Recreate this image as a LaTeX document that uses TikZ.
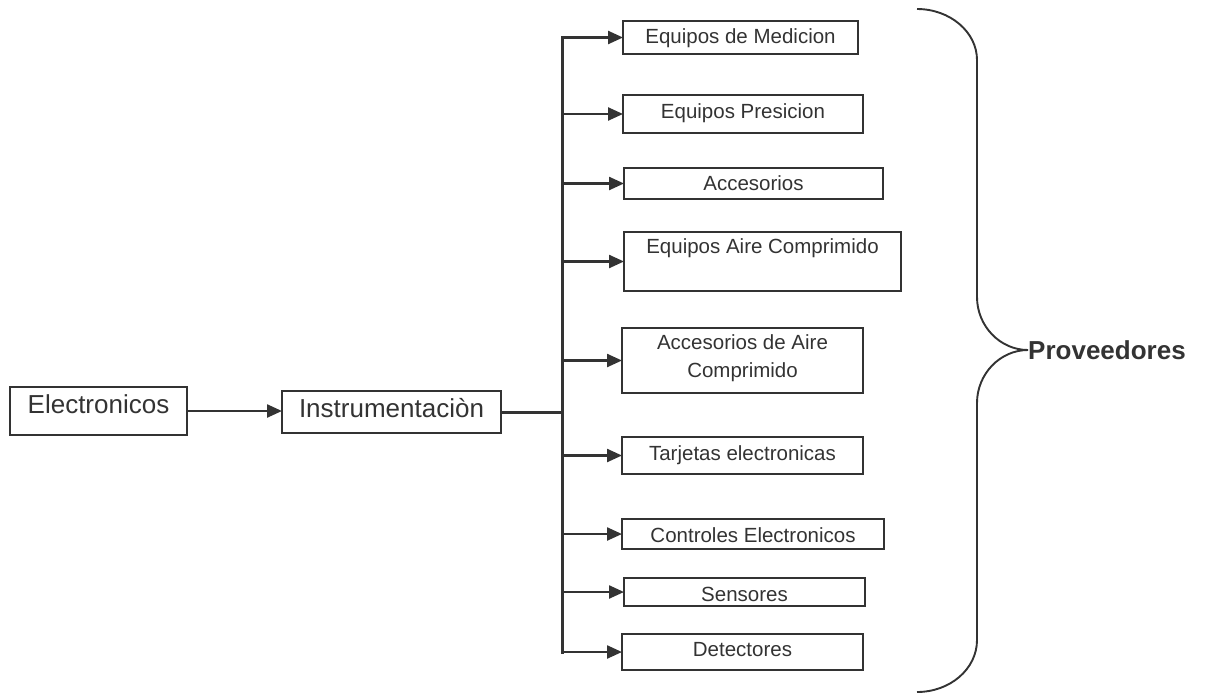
\documentclass[tikz,border=0pt]{standalone}
\usepackage{fontspec}
\setmainfont{Liberation Sans}
\usetikzlibrary{arrows.meta}
\definecolor{ink}{HTML}{333333}
\begin{document}
\begin{tikzpicture}[x=1pt,y=-1pt,
  box/.style={draw=ink, line width=1.8pt, inner sep=0pt, outer sep=0pt},
  lbl/.style={text=ink, inner sep=0pt, anchor=base, font=\fontsize{20.5}{28}\selectfont},
  biglbl/.style={lbl, font=\fontsize{26}{30}\selectfont},
  conn/.style={draw=ink, line width=2.4pt},
  arr/.style={conn, -{Triangle[length=15pt,width=13pt]}},
  busline/.style={draw=ink, line width=3pt},
  brace/.style={draw=ink, line width=1.9pt}]
\useasboundingbox (0,0) rectangle (1212,694);

% left chain
\node[box, minimum width=177pt, minimum height=48pt] (elec) at (98.5,411) {};
\node[biglbl] (elecT) at (98.5,413) {Electronicos};
\node[box, minimum width=219pt, minimum height=42pt] (instr) at (391.5,412) {};
\node[biglbl] (instrT) at (391.5,417) {Instrumentaciòn};

% item boxes
\node[box, minimum width=235pt, minimum height=33pt] (m1) at (740.5,37.5) {};
\node[lbl] (m1T) at (740.5,43) {Equipos de Medicion};
\node[box, minimum width=240pt, minimum height=38pt] (m2) at (743,114) {};
\node[lbl] (m2T) at (743,118) {Equipos Presicion};
\node[box, minimum width=259pt, minimum height=31pt] (m3) at (753.5,183.5) {};
\node[lbl] (m3T) at (753.5,190) {Accesorios};
\node[box, minimum width=277pt, minimum height=59pt] (m4) at (762.5,261.5) {};
\node[lbl] (m4T) at (762.5,253) {Equipos Aire Comprimido};
\node[box, minimum width=241pt, minimum height=65pt] (m5) at (742.5,360.5) {};
\node[lbl] (m5Ta) at (742.5,349) {Accesorios de Aire};
\node[lbl] (m5Tb) at (742.5,377) {Comprimido};
\node[box, minimum width=241pt, minimum height=37pt] (m6) at (742.5,455.5) {};
\node[lbl] (m6T) at (742.5,460) {Tarjetas electronicas};
\node[box, minimum width=262pt, minimum height=30pt] (m7) at (753,534) {};
\node[lbl] (m7T) at (753,542) {Controles Electronicos};
\node[box, minimum width=241pt, minimum height=28pt] (m8) at (744.5,592) {};
\node[lbl] (m8T) at (744.5,601) {Sensores};
\node[box, minimum width=241pt, minimum height=36pt] (m9) at (742.5,652) {};
\node[lbl] (m9T) at (742.5,656) {Detectores};

% connectors
\coordinate (bus) at (562,0);
\draw[arr] (elec.east) -- (elec.east -| instr.west);
\draw[busline] (instr.east) -- (bus |- instr.east);
\draw[busline, line cap=rect] (bus |- m1.west) -- (bus |- m9.west);
\foreach \m in {m1,m2,m3,m4,m5,m6,m7,m8,m9}
  \draw[arr] (bus |- \m.west) -- (\m.west);

% brace with its label
\node[text=ink, font=\bfseries\fontsize{26}{30}\selectfont, inner sep=0pt, anchor=west] (prov) at (1028,350) {Proveedores};
\coordinate (bracetop) at (917,9);
\coordinate (bracebot) at (917,692);
\draw[brace] (bracetop) .. controls (950,9) and (977,32) .. (977,60)
  -- (977,297) .. controls (977,326) and (1000,350) .. (prov.west)
  .. controls (1000,350) and (977,374) .. (977,403)
  -- (977,640) .. controls (977,669) and (950,692) .. (bracebot);
\end{tikzpicture}
\end{document}
